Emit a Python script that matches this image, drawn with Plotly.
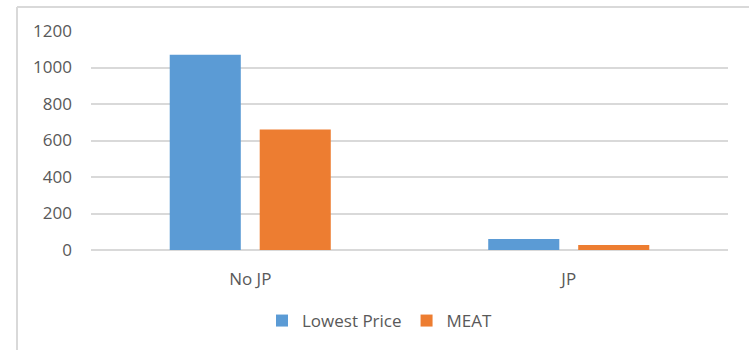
import plotly.graph_objects as go

categories = ["No JP", "JP"]
lowest_price = [1070, 60]
meat = [660, 28]
y_ticks = [0, 200, 400, 600, 800, 1000, 1200]

L, R, T, B = 91, 21, 31, 99
W, H = 749, 350
pw = W - L - R
ph = H - T - B

def px_x(px):
    return (px - L) / pw

def px_y(py):
    return (H - B - py) / ph

fig = go.Figure()
fig.add_trace(go.Bar(name="Lowest Price", x=categories, y=lowest_price,
                     marker=dict(color="#5B9BD5", line=dict(width=0))))
fig.add_trace(go.Bar(name="MEAT", x=categories, y=meat,
                     marker=dict(color="#ED7D31", line=dict(width=0))))

font_family = "Open Sans, Noto Sans, sans-serif"
fs = 17
fig.update_layout(
    width=W, height=H,
    margin=dict(l=L, r=R, t=T, b=B, pad=0),
    paper_bgcolor="white", plot_bgcolor="white",
    barmode="group", bargap=0.435, bargroupgap=0.21,
    font=dict(family=font_family, size=fs, color="#595959"),
    showlegend=True,
    legend=dict(orientation="h", x=px_x(380), xanchor="center",
                y=px_y(321), yanchor="middle",
                font=dict(size=fs, color="#595959"),
                itemwidth=30, bgcolor="rgba(0,0,0,0)"),
    xaxis=dict(showgrid=False, showline=False, ticks="", ticklabelstandoff=17,
               tickfont=dict(size=fs, color="#595959")),
    yaxis=dict(range=[0, 1200], tickvals=y_ticks, showgrid=True,
               gridcolor="#D9D9D9", gridwidth=1.5, zeroline=True,
               zerolinecolor="#D9D9D9", zerolinewidth=1.5, showline=False,
               ticks="", ticklabelstandoff=18,
               tickfont=dict(size=fs, color="#595959")),
    shapes=[
        dict(type="line", xref="paper", yref="paper",
             x0=px_x(17), x1=px_x(760), y0=px_y(7), y1=px_y(7),
             line=dict(color="#D9D9D9", width=2)),
        dict(type="line", xref="paper", yref="paper",
             x0=px_x(17), x1=px_x(17), y0=px_y(7), y1=px_y(360),
             line=dict(color="#D9D9D9", width=2)),
    ],
)

fig.write_html("out.html")
